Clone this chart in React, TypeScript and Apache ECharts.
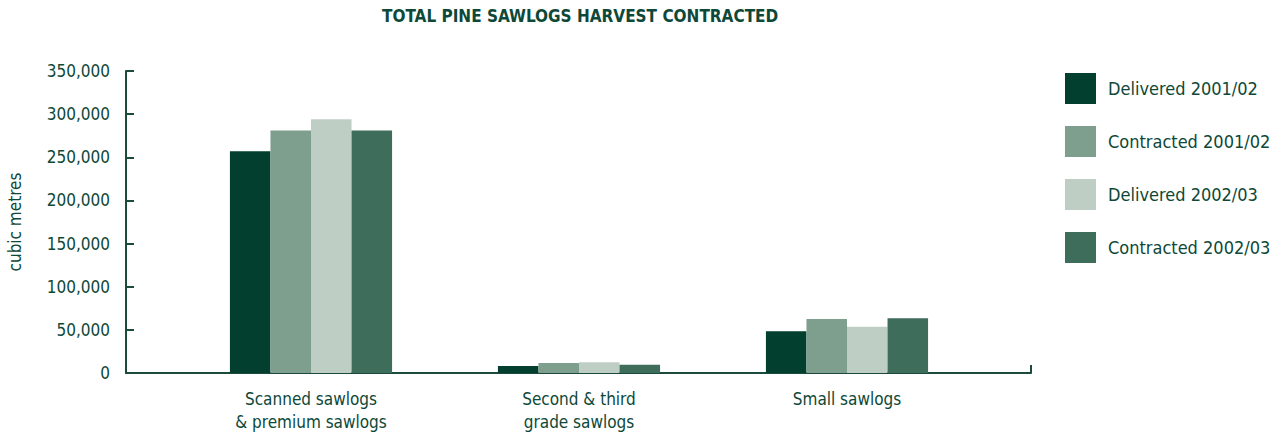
import React, { useEffect, useRef } from "react";
import * as echarts from "echarts";

// Harvest categories and volumes (cubic metres)
const categories = ["Scanned sawlogs\n& premium sawlogs", "Second & third\ngrade sawlogs", "Small sawlogs"];
const seriesNames = ["Delivered 2001/02", "Contracted 2001/02", "Delivered 2002/03", "Contracted 2002/03"];
const delivered0102 = [257000, 8000, 48500];
const contracted0102 = [281000, 11500, 62500];
const delivered0203 = [294000, 12500, 53500];
const contracted0203 = [281000, 9500, 63500];
const seriesValues = [delivered0102, contracted0102, delivered0203, contracted0203];
const seriesColors = ["#033f2f", "#7f9f8e", "#becec4", "#3e6d5b"];

const yMax = 350000;
const yStep = 50000;

const TEXT = "#0d4838";
const AXIS = "#1c4a3c";
const FONT = "'DejaVu Sans Condensed', 'DejaVu Sans', sans-serif";

const fmt = (v: number) => String(v).replace(/\B(?=(\d{3})+(?!\d))/g, ",");

export default function App() {
  const ref = useRef<HTMLDivElement>(null);

  useEffect(() => {
    if (!ref.current) return;
    const chart = echarts.init(ref.current, undefined, { renderer: "svg" });
    chart.setOption({
      animation: false,
      backgroundColor: "#ffffff",
      textStyle: { fontFamily: FONT },
      title: {
        text: "TOTAL PINE SAWLOGS HARVEST CONTRACTED",
        left: 382,
        top: 7,
        padding: 0,
        textStyle: { fontFamily: FONT, fontWeight: "bold", fontSize: 17, color: TEXT },
      },
      legend: {
        orient: "vertical",
        left: 1065,
        top: 73,
        padding: 0,
        itemWidth: 31,
        itemHeight: 31,
        itemGap: 22,
        icon: "rect",
        data: seriesNames,
        textStyle: { fontFamily: FONT, fontSize: 18, color: TEXT, padding: [0, 0, 0, 7] },
      },
      grid: [
        // frame grid: visible axes
        { left: 126, top: 71, width: 905, height: 302, outerBoundsMode: "none" },
        // bar grid: categories centred inside the frame
        { left: 177, top: 71, width: 804, height: 302, outerBoundsMode: "none" },
      ],
      xAxis: [
        {
          type: "value",
          gridIndex: 0,
          min: 0,
          max: 1,
          interval: 1,
          axisLine: { show: true, lineStyle: { color: AXIS, width: 2 } },
          axisTick: { show: true, inside: true, length: 8, lineStyle: { color: AXIS, width: 2 } },
          axisLabel: { show: false },
          splitLine: { show: false },
        },
        {
          type: "category",
          gridIndex: 1,
          data: categories,
          axisLine: { show: false },
          axisTick: { show: false },
          axisLabel: { fontFamily: FONT, fontSize: 17, color: TEXT, margin: 14, lineHeight: 23 },
        },
      ],
      yAxis: [
        {
          type: "value",
          gridIndex: 0,
          min: 0,
          max: yMax,
          interval: yStep,
          name: "cubic metres",
          nameLocation: "middle",
          nameRotate: 90,
          nameGap: 103,
          nameTextStyle: { fontFamily: FONT, fontSize: 17, color: TEXT },
          axisLine: { show: true, lineStyle: { color: AXIS, width: 2 } },
          axisTick: { show: true, inside: true, length: 8, lineStyle: { color: AXIS, width: 2 } },
          axisLabel: { fontFamily: FONT, fontSize: 17, color: TEXT, margin: 16, formatter: (v: number) => fmt(v) },
          splitLine: { show: false },
        },
        {
          type: "value",
          gridIndex: 1,
          min: 0,
          max: yMax,
          interval: yStep,
          show: false,
        },
      ],
      series: seriesNames.map((name, i) => ({
        name,
        type: "bar",
        xAxisIndex: 1,
        yAxisIndex: 1,
        data: seriesValues[i],
        barGap: "0%",
        barCategoryGap: "39.5%",
        itemStyle: { color: seriesColors[i] },
        emphasis: { disabled: true },
      })),
    });
    return () => chart.dispose();
  }, []);

  return <div ref={ref} style={{ position: "absolute", left: 0, top: 0, width: 1281, height: 434 }} />;
}
